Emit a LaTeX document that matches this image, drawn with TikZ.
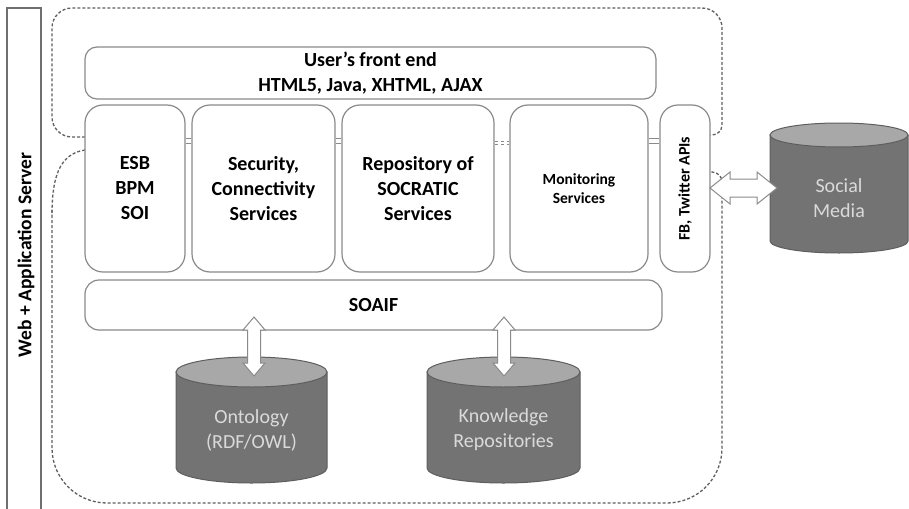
\documentclass[tikz,border=0pt]{standalone}
\usepackage{fontspec}
\setmainfont{Carlito}
\definecolor{boxline}{HTML}{8A8A8A}
\definecolor{dashline}{HTML}{606060}
\definecolor{barline}{HTML}{707070}
\definecolor{cylbody}{HTML}{737373}
\definecolor{cyltop}{HTML}{A8A8A8}
\definecolor{cyledge}{HTML}{5E5E5E}
\definecolor{cyltext}{HTML}{DADADA}
\newcommand\mycyl[5]{% cx, ytop, ybot, rx, ry
  \filldraw[fill=cylbody, draw=cyledge, line width=1pt]
    ({#1-#4},#2) -- ({#1-#4},#3) arc[start angle=180, end angle=0, x radius=#4, y radius=#5]
    -- ({#1+#4},#2) -- cycle;
  \filldraw[fill=cyltop, draw=cyledge, line width=1pt] (#1,#2) ellipse[x radius=#4, y radius=#5];
}
\newcommand\myvarrow[3]{% x, ytop, ybot
  \filldraw[blockarrow] (#1,#2) -- ({#1+11},{#2+13}) -- ({#1+6.5},{#2+13}) -- ({#1+6.5},{#3-13})
    -- ({#1+11},{#3-13}) -- (#1,#3) -- ({#1-11},{#3-13}) -- ({#1-6.5},{#3-13})
    -- ({#1-6.5},{#2+13}) -- ({#1-11},{#2+13}) -- cycle;
}
\begin{document}
\begin{tikzpicture}[x=1pt,y=-1pt,
  svcbox/.style={draw=boxline, line width=1.2pt, rounded corners=18pt, fill=white,
    align=center, font=\bfseries\fontsize{20}{25}\selectfont, inner sep=0pt},
  outline/.style={draw=dashline, line width=1.3pt, dash pattern=on 3pt off 2pt},
  cyllabel/.style={text=cyltext, align=center, font=\fontsize{20}{25}\selectfont},
  blockarrow/.style={draw=boxline, fill=white, line width=1pt},
  gap/.style={draw=boxline, line width=0.8pt}
]
\useasboundingbox (0,0) rectangle (909,508);

% left bar
\draw[barline, line width=1.4pt] (7,510) -- (7,8) -- (41,8) -- (41,510);
\node[rotate=90, font=\bfseries\fontsize{19.5}{24}\selectfont] (server) at (26,255) {Web + Application Server};

% dashed outlines
\draw[outline, rounded corners=20pt] (85,137) -- (52,137) -- (52,8) -- (722,8) -- (722,60)
  [rounded corners=10pt] -- (722,135) -- (710,135);
\draw[outline] (85,150) .. controls (58,154) and (52,180) .. (52,215);
\draw[outline, rounded corners=55pt] (52,210) -- (52,503) -- (722,503) -- (722,300)
  [rounded corners=10pt] -- (722,172) -- (710,172);

% boxes
\node[svcbox, rounded corners=12pt, minimum width=571, minimum height=52] (front) at (370.5,73)
  {User’s front end\\HTML5, Java, XHTML, AJAX};
\node[svcbox, minimum width=100, minimum height=167] (esb) at (135,188.5) {ESB\\BPM\\SOI};
\node[svcbox, minimum width=143, minimum height=167] (sec) at (263.5,188.5) {Security,\\Connectivity\\Services};
\node[svcbox, minimum width=152, minimum height=167] (repo) at (418,188.5) {Repository of\\SOCRATIC\\Services};
\node[svcbox, minimum width=138, minimum height=167, font=\bfseries\fontsize{15.5}{19}\selectfont] (mon) at (579,188.5) {Monitoring\\Services};
\node[svcbox, minimum width=50, minimum height=167] (fb) at (685,188.5) {};
\node[rotate=90, font=\bfseries\fontsize{16}{19}\selectfont] (fbtext) at (fb.center) {FB, Twitter APIs};
\node[svcbox, rounded corners=14pt, minimum width=577, minimum height=50] (soaif) at (373.5,305) {SOAIF};

% small joints between boxes
\draw[gap] (esb.east |- 0,138) -- (sec.west |- 0,138) (esb.east |- 0,143) -- (sec.west |- 0,143);
\draw[gap] (sec.east |- 0,138) -- (repo.west |- 0,138) (sec.east |- 0,143) -- (repo.west |- 0,143);
\draw[gap, dashed] (repo.east |- 0,141) -- (mon.west |- 0,141) (repo.east |- 0,144) -- (mon.west |- 0,144);
\draw[gap] (mon.east |- 0,138) -- (fb.west |- 0,138) (mon.east |- 0,143) -- (fb.west |- 0,143);

% cylinders
\mycyl{251.5}{372}{468}{75.5}{15}
\node[cyllabel] (onto) at (251.5,430) {Ontology\\(RDF/OWL)};
\mycyl{503.5}{372}{468}{76.5}{15}
\node[cyllabel] (know) at (503.5,430) {Knowledge\\Repositories};
\mycyl{839}{135}{241}{69}{12}
\node[cyllabel] (social) at (839,198) {Social\\Media};

% block arrows
\myvarrow{254}{317}{376}
\myvarrow{504}{317}{376}
\filldraw[blockarrow] (710,188) -- (730,172) -- (730,179) -- (757,179) -- (757,172) -- (777,188)
  -- (757,204) -- (757,197) -- (730,197) -- (730,204) -- cycle;
\end{tikzpicture}
\end{document}
